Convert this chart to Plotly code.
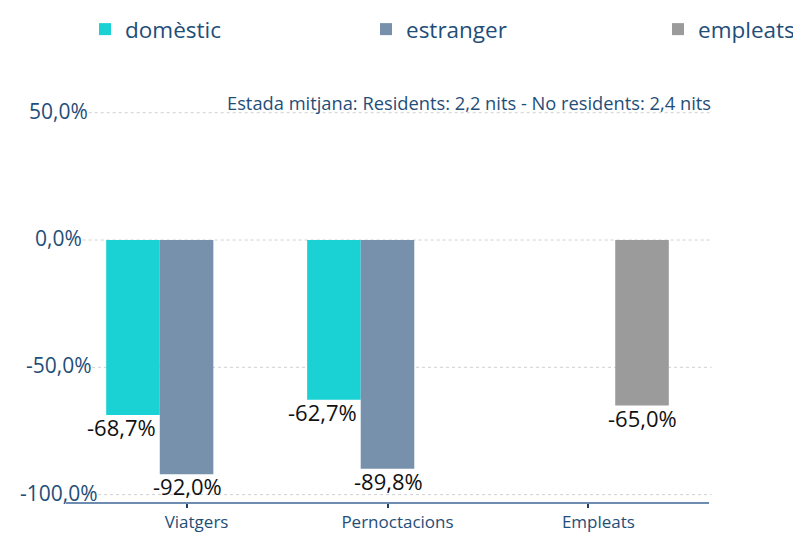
import plotly.graph_objects as go

categories = ["Viatgers", "Pernoctacions", "Empleats"]
domestic = [-68.7, -62.7, None]
estranger = [-92.0, -89.8, None]
empleats = [None, None, -65.0]
series_names = ["domèstic", "estranger", "empleats"]
tick_vals = [50, 0, -50, -100]
note_text = "Estada mitjana: Residents: 2,2 nits - No residents: 2,4 nits"

colors = ["#1ad1d3", "#7791ad", "#9b9b9b"]
font_family = "Open Sans"
blue_text = "#1f4e79"
grid_color = "#d0d0d0"


def fmt(v):
    return f"{v:.1f}".replace(".", ",") + "%"


# the page body adds an 8px offset; the figure is sized to fit the window
OFF = 8
W, H = 801 - OFF, 536 - OFF
pl, pr, pt, pb = 66 - OFF, 92, 87 - OFF, 34
pw, ph = W - pl - pr, H - pt - pb

fig = go.Figure()
series = [domestic, estranger, empleats]
legend_ids = ["legend", "legend2", "legend3"]
for name, vals, col, lg in zip(series_names, series, colors, legend_ids):
    fig.add_trace(go.Bar(
        x=categories, y=vals, name=name, marker_color=col,
        marker_line_width=0, legend=lg, hoverinfo="skip",
    ))

annotations = []
# value labels, placed under each bar end
label_xshift = [-65, 1, 54]
for vals, xs in zip(series, label_xshift):
    for c, v in zip(categories, vals):
        if v is None:
            continue
        annotations.append(dict(
            x=c, y=v, xref="x", yref="y", text=fmt(v), showarrow=False,
            xanchor="center", yanchor="middle", xshift=xs, yshift=-12,
            font=dict(family=font_family, size=22, color="#111111"),
        ))

# y tick labels (centred) and dotted gridlines starting after each label
tick_font = 21
label_cx = 58.5 - OFF  # label centre in figure px
shapes = []
for tv in tick_vals:
    txt = fmt(tv)
    est_w = tick_font * sum(
        0.572 if ch.isdigit() else 0.245 if ch == "," else
        0.817 if ch == "%" else 0.322 for ch in txt)
    x_start = label_cx + est_w / 2 + 1
    annotations.append(dict(
        x=(label_cx - pl) / pw, y=tv, xref="paper", yref="y", text=txt,
        showarrow=False, xanchor="center", yanchor="middle", yshift=2,
        font=dict(family=font_family, size=tick_font, color=blue_text),
    ))
    shapes.append(dict(
        type="line", xref="paper", yref="y",
        x0=max(0, (x_start - pl) / pw), x1=1.004, y0=tv, y1=tv,
        line=dict(color=grid_color, width=1, dash="dot"), layer="below",
    ))

annotations.append(dict(
    x=(713 - OFF - pl) / pw, y=1 - (103 - 87) / ph, xref="paper", yref="paper",
    text=note_text, showarrow=False, xanchor="right", yanchor="middle",
    font=dict(family=font_family, size=18.3, color=blue_text),
))

leg_common = dict(orientation="h", xref="container", yref="container",
                  yanchor="top", xanchor="left", itemwidth=30,
                  bgcolor="rgba(0,0,0,0)",
                  font=dict(family=font_family, size=22.5, color=blue_text))

fig.update_layout(
    width=W, height=H,
    margin=dict(l=pl, r=pr, t=pt, b=pb, autoexpand=False),
    paper_bgcolor="white", plot_bgcolor="white",
    barmode="group", bargap=0.2, bargroupgap=0,
    font=dict(family=font_family, color=blue_text),
    showlegend=True,
    legend=dict(x=77 / W, y=1.0, **leg_common),
    legend2=dict(x=358 / W, y=1.0, **leg_common),
    legend3=dict(x=650 / W, y=1.0, **leg_common),
    annotations=annotations,
    shapes=shapes,
    xaxis=dict(
        range=[-0.6, 2.6], showgrid=False, showline=True,
        linecolor="#6d8cb0", linewidth=2, ticks="outside", ticklen=4,
        tickcolor="#1f3f66", tickwidth=1.5, ticklabelshift=10,
        tickfont=dict(family=font_family, size=17, color=blue_text),
        fixedrange=True,
    ),
    yaxis=dict(
        range=[-102.9, 60.1], tickvals=tick_vals, showticklabels=False,
        showgrid=False, zeroline=False, showline=False, fixedrange=True,
    ),
)

fig.write_html("out.html")
